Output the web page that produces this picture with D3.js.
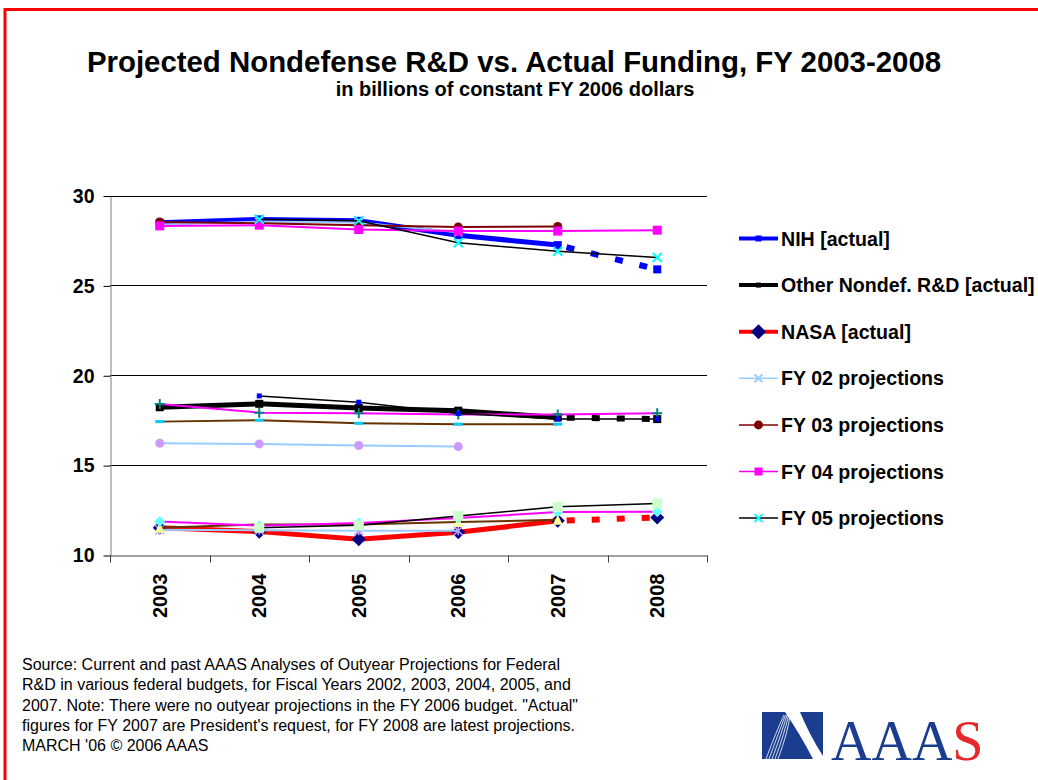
<!DOCTYPE html>
<html>
<head>
<meta charset="utf-8">
<script src="https://cdn.jsdelivr.net/npm/d3@7"></script>
<style>
body { margin: 0; background: #fff; }
svg { display: block; font-family: "Liberation Sans", Arial, sans-serif; }
</style>
</head>
<body>
<div class="chart"></div>
<script>
var years = ["2003", "2004", "2005", "2006", "2007", "2008"];
var yTicks = [10, 15, 20, 25, 30];

// actual funding (FY07 request, FY08 projection shown dashed)
var nihActual   = [28.48, 28.67, 28.59, 27.79, 27.24, 25.89];
var otherActual = [18.22, 18.41, 18.18, 18.03, 17.65, 17.56];
var nasaActual  = [11.52, 11.30, 10.88, 11.26, 11.90, 12.09];

// outyear projections from each budget
var nihFY02   = [28.38, 28.55, 28.50, 27.95, null, null];
var otherFY02 = [16.22, 16.18, 16.09, 16.03, null, null];
var nasaFY02  = [11.40, 11.38, 11.35, 11.35, null, null];

var nihFY03   = [28.53, 28.45, 28.35, 28.25, 28.28, null];
var otherFY03 = [17.42, 17.50, 17.33, 17.28, 17.28, null];
var nasaFY03  = [11.52, 11.70, 11.70, 11.83, 11.96, null];

var nihFY04   = [28.31, 28.35, 28.11, 28.02, 28.02, 28.07];
var otherFY04 = [18.40, 17.92, 17.89, 17.81, 17.81, 17.89];
var nasaFY04  = [11.87, 11.63, 11.78, 12.06, 12.39, 12.40];

var nihFY05   = [null, 28.68, 28.60, 27.37, 26.90, 26.55];
var otherFY05 = [null, 18.85, 18.50, 17.87, 17.57, 17.57];
var nasaFY05  = [null, 11.52, 11.65, 12.17, 12.68, 12.87];

var legendLabels = ["NIH [actual]", "Other Nondef. R&D [actual]", "NASA [actual]",
  "FY 02 projections", "FY 03 projections", "FY 04 projections", "FY 05 projections"];

var sourceLines = [
  "Source: Current and past AAAS Analyses of Outyear Projections for Federal",
  "R&D in various federal budgets, for Fiscal Years 2002, 2003, 2004, 2005, and",
  "2007. Note: There were no outyear projections in the FY 2006 budget. \"Actual\"",
  "figures for FY 2007 are President's request, for FY 2008 are latest projections.",
  "MARCH '06 \u00a9 2006 AAAS"
];

var width = 1038, height = 780;
var plot = {left: 110, right: 707, top: 195.5, bottom: 555};

var svg = d3.select(".chart").append("svg")
    .attr("width", width)
    .attr("height", height);

// red frame
svg.append("path")
    .attr("d", "M5,780 V9.5 H1038")
    .attr("fill", "none")
    .attr("stroke", "#ff0000")
    .attr("stroke-width", 3);

svg.append("text")
    .attr("x", 514).attr("y", 72)
    .attr("text-anchor", "middle")
    .style("font-size", "29.4px").style("font-weight", "bold")
    .text("Projected Nondefense R&D vs. Actual Funding, FY 2003-2008");

svg.append("text")
    .attr("x", 515).attr("y", 96)
    .attr("text-anchor", "middle")
    .style("font-size", "20px").style("font-weight", "bold")
    .text("in billions of constant FY 2006 dollars");

var x = d3.scaleBand().domain(years).range([plot.left, plot.right]);
var y = d3.scaleLinear().domain([10, 30]).range([plot.bottom, plot.top]);

// gridlines
svg.append("g").selectAll("line")
    .data(yTicks.slice(1))
  .enter().append("line")
    .attr("x1", plot.left).attr("x2", plot.right)
    .attr("y1", function(d) { return Math.round(y(d)) + 0.5; })
    .attr("y2", function(d) { return Math.round(y(d)) + 0.5; })
    .attr("stroke", "#000");

var yAxis = svg.append("g")
    .attr("transform", "translate(" + (plot.left + 0.5) + ",0.5)")
    .call(d3.axisLeft(y).tickValues(yTicks).tickSize(7).tickPadding(9).tickSizeOuter(0));
yAxis.select(".domain").attr("stroke", "#808080");
yAxis.selectAll("text")
    .style("font-size", "19.5px").style("font-weight", "bold")
    .attr("fill", "#000");

var xAxis = svg.append("g")
    .attr("transform", "translate(0," + (plot.bottom + 0.5) + ")")
    .call(d3.axisBottom(x).tickSize(0).tickSizeOuter(0));
xAxis.select(".domain").attr("stroke", "#404040");
xAxis.selectAll("text")
    .attr("transform", "rotate(-90)")
    .attr("text-anchor", "end")
    .attr("x", -18).attr("y", 0).attr("dy", "0.36em")
    .style("font-size", "20px").style("font-weight", "bold")
    .attr("fill", "#000");

// category boundary ticks
xAxis.selectAll(".bound")
    .data(d3.range(years.length + 1))
  .enter().append("line")
    .attr("class", "bound")
    .attr("x1", function(i) { return Math.round(plot.left + i * x.step()) + 0.5; })
    .attr("x2", function(i) { return Math.round(plot.left + i * x.step()) + 0.5; })
    .attr("y1", 0).attr("y2", 7)
    .attr("stroke", "#404040");

function drawMarker(g, type, fill, size) {
  var s = size / 2;
  if (type == "circle") {
    g.append("circle").attr("r", s).attr("fill", fill);
  } else if (type == "square") {
    g.append("rect").attr("x", -s).attr("y", -s).attr("width", size).attr("height", size).attr("fill", fill);
  } else if (type == "diamond") {
    g.append("path").attr("d", "M0," + (-s) + "L" + s + ",0L0," + s + "L" + (-s) + ",0Z").attr("fill", fill);
  } else if (type == "triangle") {
    g.append("path").attr("d", "M0," + (-s) + "L" + s + "," + s + "L" + (-s) + "," + s + "Z").attr("fill", fill);
  } else if (type == "dash") {
    g.append("rect").attr("x", -s).attr("y", -1.5).attr("width", size).attr("height", 3).attr("fill", fill);
  } else if (type == "x") {
    g.append("path").attr("d", "M" + (-s) + "," + (-s) + "L" + s + "," + s + "M" + (-s) + "," + s + "L" + s + "," + (-s))
        .attr("stroke", fill).attr("stroke-width", 2);
  } else if (type == "plus") {
    g.append("path").attr("d", "M0," + (-s) + "V" + s + "M" + (-s) + ",0H" + s)
        .attr("stroke", fill).attr("stroke-width", 2);
  } else if (type == "asterisk") {
    g.append("path").attr("d", "M" + (-s) + "," + (-s) + "L" + s + "," + s + "M" + (-s) + "," + s + "L" + s + "," + (-s) + "M0," + (-s) + "V" + s)
        .attr("stroke", fill).attr("stroke-width", 1.5);
  }
}

var series = [
  {values: nihActual,   color: "#0000ff", width: 5, actual: true, marker: "square",  fill: "#0000ff", size: 8},
  {values: otherActual, color: "#000000", width: 5, actual: true, marker: "square",  fill: "#000000", size: 8},
  {values: nasaActual,  color: "#ff0000", width: 5, actual: true, marker: "diamond", fill: "#000080", size: 14},
  {values: nihFY02,   color: "#99ccff", width: 2, marker: "x",        fill: "#99ccff", size: 8},
  {values: otherFY02, color: "#99ccff", width: 2, marker: "circle",   fill: "#cc99ff", size: 9},
  {values: nasaFY02,  color: "#99ccff", width: 2, marker: "asterisk", fill: "#cc99ff", size: 9},
  {values: nihFY03,   color: "#800000", width: 2, marker: "circle",   fill: "#800000", size: 9},
  {values: otherFY03, color: "#663300", width: 2, marker: "dash",     fill: "#00ccff", size: 9},
  {values: nasaFY03,  color: "#663300", width: 2, marker: "triangle", fill: "#ffff99", size: 10},
  {values: nihFY04,   color: "#ff00ff", width: 2, marker: "square",   fill: "#ff00ff", size: 9},
  {values: otherFY04, color: "#ff00ff", width: 2, marker: "plus",     fill: "#008080", size: 10},
  {values: nasaFY04,  color: "#ff00ff", width: 2, marker: "diamond",  fill: "#66ffff", size: 11},
  {values: nihFY05,   color: "#000000", width: 1.5, marker: "x",      fill: "#00ffff", size: 9},
  {values: otherFY05, color: "#000000", width: 1.5, marker: "square", fill: "#0000ff", size: 5},
  {values: nasaFY05,  color: "#000000", width: 1.5, marker: "square", fill: "#ccffcc", size: 10}
];

var line = d3.line()
    .defined(function(d) { return d.v != null; })
    .x(function(d) { return x(d.year) + x.bandwidth() / 2; })
    .y(function(d) { return y(d.v); });

var lastReal = years.length - 2;

series.forEach(function(s) {
  var pts = s.values.map(function(v, i) { return {year: years[i], v: v, i: i}; });
  var g = svg.append("g");
  if (s.actual) {
    g.append("path")
        .attr("d", line(pts.slice(0, lastReal + 1)))
        .attr("fill", "none").attr("stroke", s.color).attr("stroke-width", s.width)
        .attr("stroke-linejoin", "round");
    g.append("path")
        .attr("d", line(pts.slice(lastReal)))
        .attr("fill", "none").attr("stroke", s.color).attr("stroke-width", s.width + 1)
        .attr("stroke-dasharray", "8,17").attr("stroke-dashoffset", -9);
  } else {
    g.append("path")
        .attr("d", line(pts))
        .attr("fill", "none").attr("stroke", s.color).attr("stroke-width", s.width);
  }
  g.selectAll(".pt")
      .data(pts.filter(function(d) { return d.v != null; }))
    .enter().append("g")
      .attr("class", "pt")
      .attr("transform", function(d) { return "translate(" + (x(d.year) + x.bandwidth() / 2) + "," + y(d.v) + ")"; })
      .each(function() { drawMarker(d3.select(this), s.marker, s.fill, s.size); });
});

// legend
var legendStyles = [
  {color: "#0000ff", width: 4, marker: "square",  fill: "#0000ff", size: 6},
  {color: "#000000", width: 4, marker: "square",  fill: "#000000", size: 5},
  {color: "#ff0000", width: 4, marker: "diamond", fill: "#000080", size: 15},
  {color: "#99ccff", width: 1.5, marker: "x",      fill: "#99ccff", size: 8},
  {color: "#800000", width: 1.5, marker: "circle", fill: "#800000", size: 9},
  {color: "#ff00ff", width: 1.5, marker: "square", fill: "#ff00ff", size: 8},
  {color: "#000000", width: 1.5, marker: "x",      fill: "#00ffff", size: 8}
];

var legend = svg.append("g").selectAll(".legend")
    .data(legendLabels)
  .enter().append("g")
    .attr("class", "legend")
    .attr("transform", function(d, i) { return "translate(739," + (238.5 + i * 46.6) + ")"; });

legend.append("line")
    .attr("x1", 0).attr("x2", 39)
    .attr("stroke", function(d, i) { return legendStyles[i].color; })
    .attr("stroke-width", function(d, i) { return legendStyles[i].width; });

legend.append("g")
    .attr("transform", "translate(19.5,0)")
    .each(function(d, i) { var st = legendStyles[i]; drawMarker(d3.select(this), st.marker, st.fill, st.size); });

legend.append("text")
    .attr("x", 42).attr("y", 7)
    .style("font-size", "19.6px").style("font-weight", "bold")
    .text(function(d) { return d; });

// source note
svg.append("g").selectAll("text")
    .data(sourceLines)
  .enter().append("text")
    .attr("x", 22)
    .attr("y", function(d, i) { return 670 + i * 20.3; })
    .style("font-size", "16px")
    .text(function(d) { return d; });

// AAAS logo
var logo = svg.append("g").attr("transform", "translate(762,712)");
logo.append("rect").attr("width", 61).attr("height", 47).attr("fill", "#1b3d8f");
logo.append("path")
    .attr("d", "M23,0 H38 Q48,24 61,44 V47 H51 Q38,22 23,0 Z")
    .attr("fill", "#fff");
logo.selectAll(".stroke")
    .data(d3.range(5))
  .enter().append("path")
    .attr("class", "stroke")
    .attr("d", function(i) { return "M" + (4 + i * 3) + ",47 Q" + (14 + i * 3) + ",20 " + (22 + i * 1.5) + ",3"; })
    .attr("fill", "none").attr("stroke", "#fff").attr("stroke-width", 0.8);

var logoText = svg.append("text")
    .attr("x", 831).attr("y", 760)
    .style("font-family", "'Liberation Serif', 'Times New Roman', serif")
    .style("font-size", "56px")
    .attr("fill", "#1b3d8f");
logoText.append("tspan").text("AAA");
logoText.append("tspan").attr("fill", "#e8262b").text("S");
</script>
</body>
</html>
